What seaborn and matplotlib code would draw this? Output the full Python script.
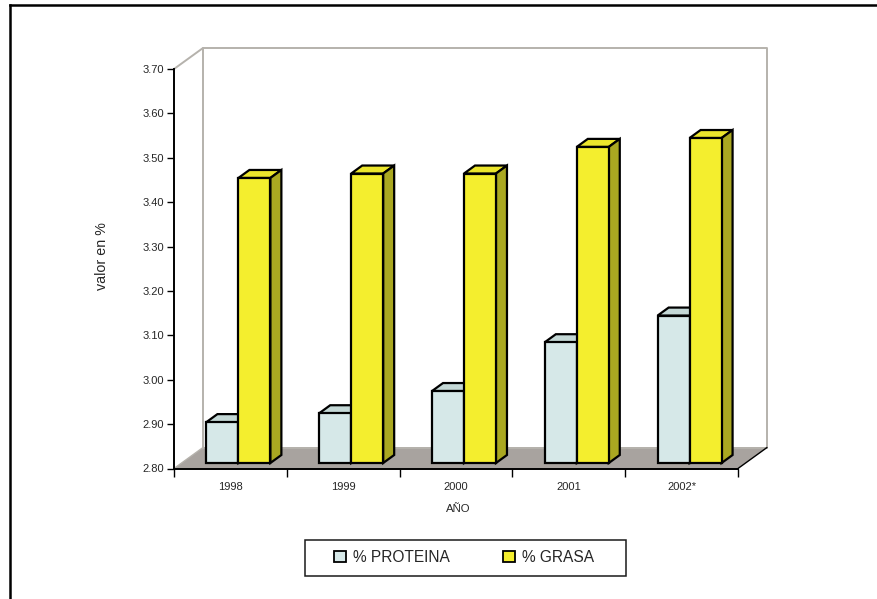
import matplotlib
matplotlib.use("Agg")
import matplotlib.pyplot as plt
import pandas as pd
import seaborn as sns
from matplotlib.lines import Line2D
from matplotlib.patches import Patch, Polygon, Rectangle

years = ["1998", "1999", "2000", "2001", "2002*"]
proteina = [2.90, 2.92, 2.97, 3.08, 3.14]
grasa = [3.45, 3.46, 3.46, 3.52, 3.54]
series_names = ["% PROTEINA", "% GRASA"]
y_ticks = [2.8, 2.9, 3.0, 3.1, 3.2, 3.3, 3.4, 3.5, 3.6, 3.7]

FACE = {"% PROTEINA": "#d6e8e8", "% GRASA": "#f4ee2e"}
TOP = {"% PROTEINA": "#c4d8d6", "% GRASA": "#ebe52c"}
SIDE = {"% PROTEINA": "#a3b5b5", "% GRASA": "#aaa821"}
FLOOR = "#a8a39f"
WALL = "#b5b2ac"
INK = "#000000"
TEXT = "#262626"

W, H = 877, 599
L, R, T, B = 174, 738, 69, 468.5

sns.set_theme(style="white")
plt.rcParams["font.family"] = ["Liberation Sans", "DejaVu Sans"]

fig = plt.figure(figsize=(W / 100, H / 100), dpi=100, facecolor="white")
ax = fig.add_axes([L / W, 1 - B / H, (R - L) / W, (B - T) / H])
ax.patch.set_alpha(0)

table = pd.DataFrame({
    "anio": years * 2,
    "valor": proteina + grasa,
    "serie": [series_names[0]] * len(years) + [series_names[1]] * len(years),
})
sns.barplot(data=table, x="anio", y="valor", hue="serie", hue_order=series_names,
            palette=FACE, width=0.567, edgecolor=INK, linewidth=1.6,
            saturation=1, legend=False, ax=ax, zorder=5)
bar_patches = list(ax.patches)

ax.set_xlim(-0.5, len(years) - 0.5)
ax.set_ylim(2.8, 3.7)

# Conversion from pixels to data units, for the oblique depth of the 3D box
px_x = len(years) / (R - L)
px_y = 0.9 / (B - T)
wall_dx, wall_dy = 29 * px_x, 21 * px_y
bar_dx, bar_dy = 11 * px_x, 8 * px_y
shift_x, shift_y = 8 * px_x, 2 * px_y
base = 2.8 + 5.5 * px_y

x0, x1 = -0.5, len(years) - 0.5
y0, y1 = 2.8, 3.7

# Floor and back wall of the 3D box
ax.add_patch(Polygon([(x0, y0), (x0 + wall_dx, y0 + wall_dy),
                      (x1 + wall_dx, y0 + wall_dy), (x1, y0)],
                     closed=True, facecolor=FLOOR, edgecolor="none",
                     clip_on=False, zorder=1))
ax.plot([x0, x0 + wall_dx, x0 + wall_dx],
        [y1, y1 + wall_dy, y0 + wall_dy],
        color=WALL, lw=1.4, clip_on=False, zorder=2, solid_capstyle="butt")
ax.plot([x0 + wall_dx, x1 + wall_dx, x1 + wall_dx, x0 + wall_dx],
        [y1 + wall_dy, y1 + wall_dy, y0 + wall_dy, y0 + wall_dy],
        color=WALL, lw=1.4, clip_on=False, zorder=2)
ax.plot([x0, x0 + wall_dx], [y0, y0 + wall_dy], color=WALL, lw=1.0, clip_on=False, zorder=2)
ax.plot([x1, x1 + wall_dx], [y0, y0 + wall_dy], color=INK, lw=1.0, clip_on=False, zorder=3)

# Bars sit in a plane slightly behind the front of the box; each gets a top and a side
n = len(years)
for i, patch in enumerate(bar_patches):
    name = series_names[i // n]
    value = patch.get_height() + patch.get_y()
    left = patch.get_x() + shift_x
    right = left + patch.get_width()
    top = value + shift_y
    patch.set_x(left)
    patch.set_y(base)
    patch.set_height(top - base)
    patch.set_clip_on(False)
    order = 5 + i // n * 2
    patch.set_zorder(order + 1)
    edge = dict(edgecolor=INK, linewidth=1.6, closed=True, clip_on=False,
                joinstyle="miter", zorder=order)
    ax.add_patch(Polygon([(left, top), (left + bar_dx, top + bar_dy),
                          (right + bar_dx, top + bar_dy), (right, top)],
                         facecolor=TOP[name], **edge))
    ax.add_patch(Polygon([(right, base), (right + bar_dx, base + bar_dy),
                          (right + bar_dx, top + bar_dy), (right, top)],
                         facecolor=SIDE[name], **edge))

# Axes, ticks and labels
sns.despine(ax=ax, top=True, right=True)
for side in ("left", "bottom"):
    ax.spines[side].set_color(INK)
    ax.spines[side].set_linewidth(1.4)
    ax.spines[side].set_zorder(4)

ax.set_yticks(y_ticks, labels=[f"{v:.2f}" for v in y_ticks])
ax.set_xticks(range(n), labels=years)
ax.set_xticks([k - 0.5 for k in range(n + 1)], minor=True)
ax.tick_params(axis="y", which="major", left=True, length=5, width=1.0, color=INK,
               labelsize=8, labelcolor=TEXT, pad=2)
ax.tick_params(axis="x", which="major", bottom=False, length=0, labelsize=8,
               labelcolor=TEXT, pad=10)
ax.tick_params(axis="x", which="minor", bottom=True, length=5.5, width=1.0, color=INK)
ax.grid(False)

ax.set_xlabel("")
ax.set_ylabel("")
fig.text(458 / W, 1 - 509.5 / H, "AÑO", fontsize=8.2, color=TEXT, ha="center", va="center")
fig.text(102 / W, 1 - 256 / H, "valor en %", fontsize=10.3, color=TEXT,
         rotation=90, ha="center", va="center")

# Legend inside its own ruled box
fig.add_artist(Rectangle((305 / W, 1 - 576 / H), 321 / W, 36 / H,
                         transform=fig.transFigure, facecolor="white",
                         edgecolor="#1a1a1a", linewidth=1.1))
handles = [Patch(facecolor=FACE[s], edgecolor=INK, linewidth=1.3, label=s) for s in series_names]
fig.legend(handles=handles, ncol=2, frameon=False, fontsize=11.2,
           loc="center", bbox_to_anchor=(464 / W, 1 - 557.5 / H),
           bbox_transform=fig.transFigure, borderpad=0, borderaxespad=0,
           handlelength=0.75, handleheight=0.75, handletextpad=0.45,
           columnspacing=3.42, labelcolor=TEXT)

# Page frame along the top and left edges
fig.add_artist(Line2D([10.3 / W, 10.3 / W], [0, 1 - 5 / H], color=INK, lw=1.8,
                      transform=fig.transFigure, solid_capstyle="projecting"))
fig.add_artist(Line2D([10.3 / W, 1], [1 - 5 / H, 1 - 5 / H], color=INK, lw=1.8,
                      transform=fig.transFigure, solid_capstyle="projecting"))

fig.savefig("out.png", dpi=100, facecolor="white")
